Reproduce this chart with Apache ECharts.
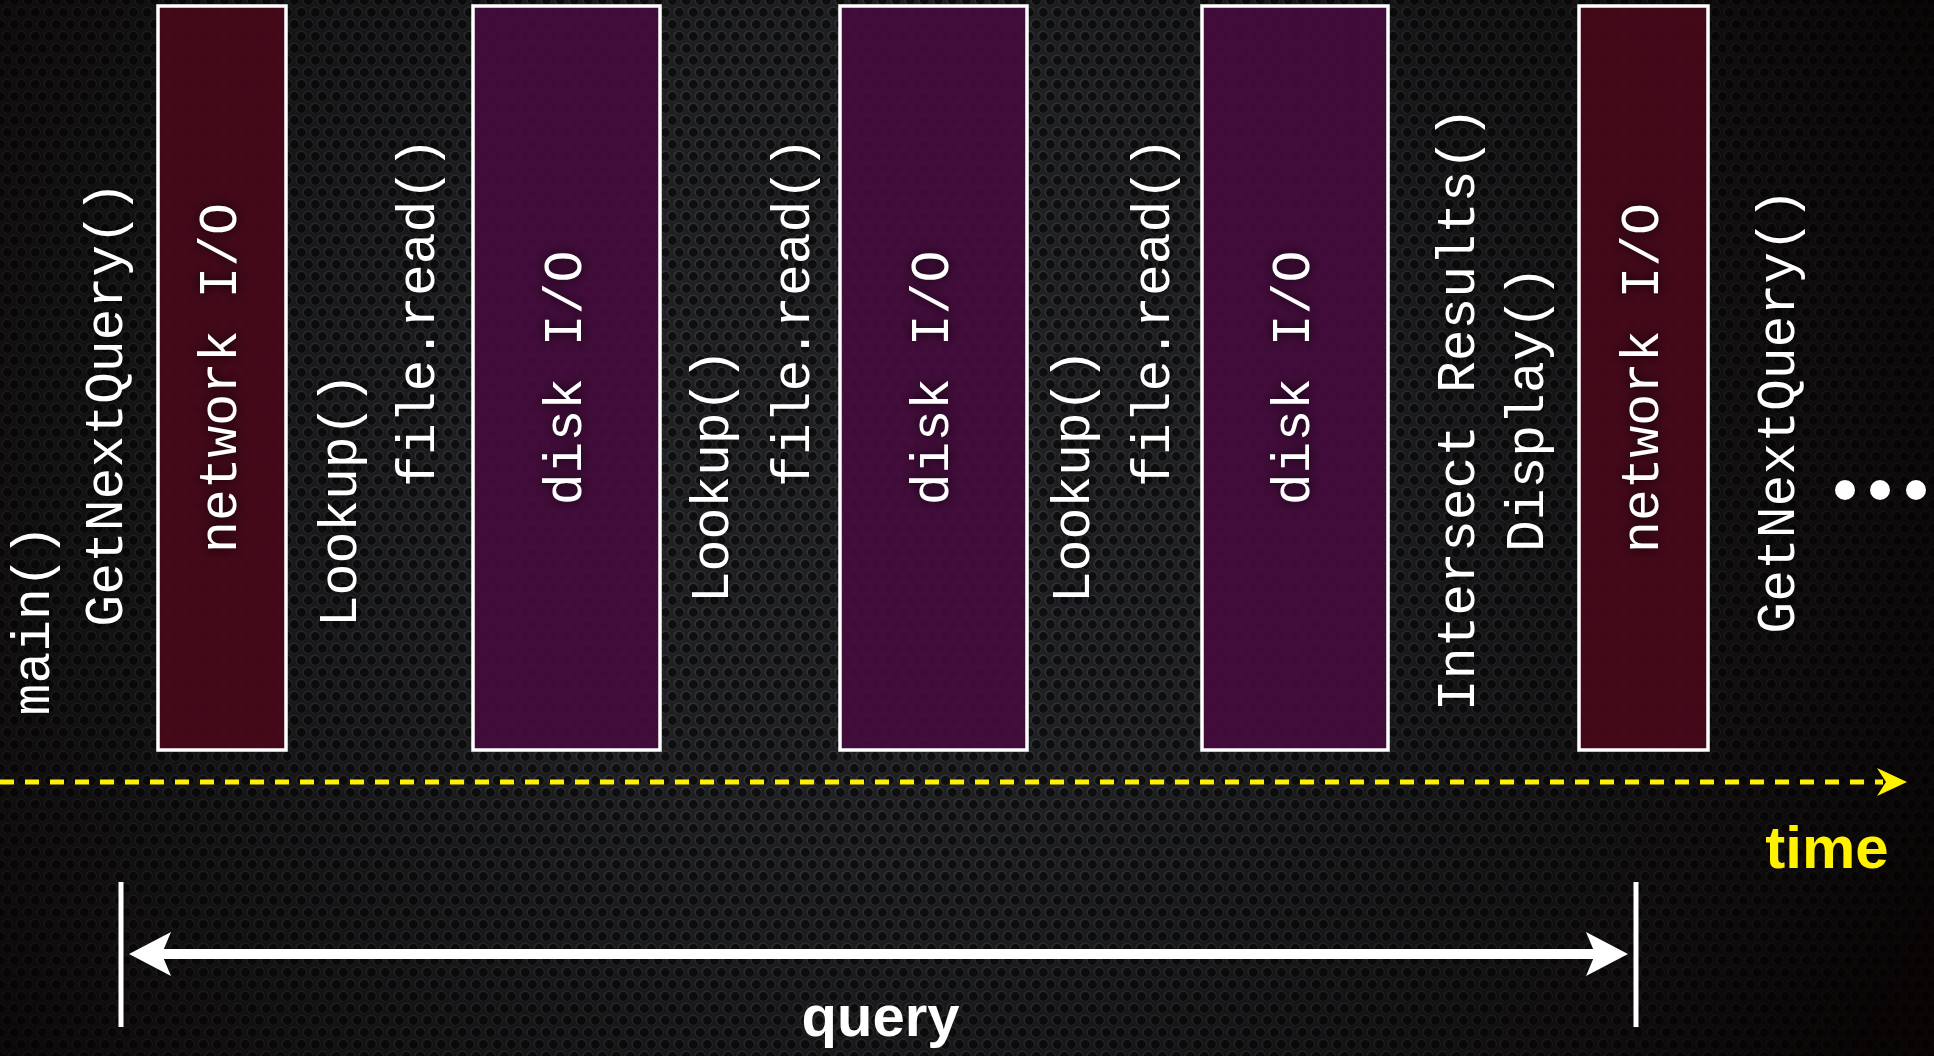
<!DOCTYPE html>
<html>
<head>
<meta charset="utf-8">
<script src="https://cdn.jsdelivr.net/npm/echarts@6/dist/echarts.min.js"></script>
<style>
html,body{margin:0;padding:0;background:#111;}
#chart{width:1934px;height:1056px;}
</style>
</head>
<body>
<div id="chart"></div>
<script>
// ---------- data (time position along the x axis, row position along the y axis) ----------
const ioKinds   = ['network', 'disk', 'disk', 'disk', 'network'];
const ioLabels  = ['network I/O', 'disk I/O', 'disk I/O', 'disk I/O', 'network I/O'];
const ioStart   = [158, 473, 840, 1202, 1579];
const ioEnd     = [286, 660, 1027, 1388, 1708];

const callNames = ['main()', 'GetNextQuery()', 'Lookup()', 'file.read()', 'Lookup()', 'file.read()',
                   'Lookup()', 'file.read()', 'Intersect Results()', 'Display()', 'GetNextQuery()'];
const callTime  = [35, 108, 342, 420, 714, 795, 1075, 1155, 1460, 1529, 1780];
const callRow   = [620, 404, 500, 312, 476, 312, 476, 312, 409, 409, 411];

const timelineStart = 0, timelineEnd = 1907;
const queryStart = 121, queryEnd = 1636;
const moreDots = [1845, 1880, 1916];

// ---------- layout constants (axis units) ----------
const BOX_TOP = 6, BOX_BOTTOM = 750, IO_LABEL_ROW = 378;
const TIMELINE_ROW = 782, QUERY_ROW = 954, TICK_TOP = 882, TICK_BOTTOM = 1027;
const DOTS_ROW = 490;

const ioColors = {network: 'rgba(70,8,26,0.94)', disk: 'rgba(68,12,60,0.94)'};

function meshPattern() {
  const c = document.createElement('canvas');
  c.width = 14; c.height = 24;
  const g = c.getContext('2d');
  g.fillStyle = '#202124'; g.fillRect(0, 0, 14, 24);
  const pts = [[0,0],[14,0],[0,24],[14,24],[7,12]];
  pts.forEach(([x,y]) => {
    g.beginPath(); g.arc(x, y, 5.8, 0, Math.PI*2); g.fillStyle = '#323337'; g.fill();
    g.beginPath(); g.arc(x + 0.4, y + 0.5, 4.4, 0, Math.PI*2); g.fillStyle = '#0f0f10'; g.fill();
  });
  return c;
}

const chart = echarts.init(document.getElementById('chart'));
const monoFont = '"Courier New", "Nimbus Mono PS", "Nimbus Mono L", FreeMono, "Liberation Mono", monospace';
const textShadow = {textShadowColor: 'rgba(0,0,0,0.85)', textShadowBlur: 12};

function arrowHead(tip, dir, L, H, notch, color) {
  return {
    type: 'polygon',
    shape: {points: [
      [tip[0], tip[1]],
      [tip[0] - dir*L, tip[1] - H/2],
      [tip[0] - dir*L*(1-notch), tip[1]],
      [tip[0] - dir*L, tip[1] + H/2]
    ]},
    style: {fill: color}
  };
}

chart.setOption({
  backgroundColor: '#111',
  animation: false,
  graphic: [
    {type: 'rect', left: 0, top: 0, z: -10, shape: {width: 1934, height: 1056},
     style: {fill: {image: meshPattern(), repeat: 'repeat'}}},
    {type: 'rect', left: 0, top: 0, z: -9, shape: {width: 1934, height: 1056},
     style: {fill: {type: 'radial', x: 0.45, y: 0.42, r: 1.1, colorStops: [
       {offset: 0, color: 'rgba(0,0,0,0)'},
       {offset: 0.35, color: 'rgba(0,0,0,0.08)'},
       {offset: 0.8, color: 'rgba(5,0,0,0.6)'},
       {offset: 1, color: 'rgba(5,0,0,0.85)'}]}}}
  ],
  grid: {left: 0, right: 0, top: 0, bottom: 0},
  xAxis: {type: 'value', min: 0, max: 1934, show: false},
  yAxis: {type: 'value', min: 0, max: 1056, inverse: true, show: false},
  series: [
    {
      type: 'custom', name: 'io', z: 3,
      data: ioStart.map((s, i) => [s, ioEnd[i], i]),
      renderItem: function (params, api) {
        const i = api.value(2);
        const p0 = api.coord([api.value(0), BOX_TOP]);
        const p1 = api.coord([api.value(1), BOX_BOTTOM]);
        const mid = api.coord([(api.value(0) + api.value(1)) / 2, IO_LABEL_ROW]);
        return {type: 'group', children: [
          {type: 'rect', shape: {x: p0[0], y: p0[1], width: p1[0]-p0[0], height: p1[1]-p0[1]},
           style: {fill: ioColors[ioKinds[i]], stroke: '#ffffff', lineWidth: 3.5}},
          {type: 'text', x: mid[0], y: mid[1], rotation: Math.PI/2,
           style: Object.assign({text: ioLabels[i], fill: '#ffffff', fontFamily: monoFont, fontSize: 53,
             align: 'center', verticalAlign: 'middle'}, textShadow)}
        ]};
      }
    },
    {
      type: 'custom', name: 'calls', z: 4,
      data: callTime.map((t, i) => [t, callRow[i], i]),
      renderItem: function (params, api) {
        const p = api.coord([api.value(0), api.value(1)]);
        return {type: 'text', x: p[0], y: p[1], rotation: Math.PI/2,
          style: Object.assign({text: callNames[api.value(2)], fill: '#ffffff', fontFamily: monoFont,
            fontSize: 53, align: 'center', verticalAlign: 'middle'}, textShadow)};
      }
    },
    {
      type: 'custom', name: 'timeline', z: 5,
      data: [[timelineStart, timelineEnd, TIMELINE_ROW]],
      renderItem: function (params, api) {
        const a = api.coord([api.value(0), api.value(2)]);
        const b = api.coord([api.value(1), api.value(2)]);
        return {type: 'group', children: [
          {type: 'line', shape: {x1: a[0], y1: a[1], x2: b[0] - 24, y2: b[1]},
           style: {stroke: '#fff200', lineWidth: 5, lineDash: [14, 11]}},
          arrowHead(b, 1, 30, 28, 0.3, '#fff200'),
          {type: 'text', x: api.coord([1827, 0])[0], y: api.coord([0, 851])[1],
           style: {text: 'time', fill: '#fff200', fontFamily: '"Liberation Sans", Arial, sans-serif',
             fontWeight: 'bold', fontSize: 60, align: 'center', verticalAlign: 'middle'}}
        ]};
      }
    },
    {
      type: 'custom', name: 'query', z: 5,
      data: [[queryStart, queryEnd, QUERY_ROW]],
      renderItem: function (params, api) {
        const a = api.coord([api.value(0), api.value(2)]);
        const b = api.coord([api.value(1), api.value(2)]);
        const t0 = api.coord([api.value(0), TICK_TOP]);
        const t1 = api.coord([api.value(0), TICK_BOTTOM]);
        const u0 = api.coord([api.value(1), TICK_TOP]);
        const u1 = api.coord([api.value(1), TICK_BOTTOM]);
        const tipL = [a[0] + 8, a[1]], tipR = [b[0] - 8, b[1]];
        const mid = api.coord([(api.value(0) + api.value(1)) / 2 + 2, 1020]);
        return {type: 'group', children: [
          {type: 'line', shape: {x1: t0[0], y1: t0[1], x2: t1[0], y2: t1[1]}, style: {stroke: '#fff', lineWidth: 5}},
          {type: 'line', shape: {x1: u0[0], y1: u0[1], x2: u1[0], y2: u1[1]}, style: {stroke: '#fff', lineWidth: 5}},
          {type: 'line', shape: {x1: tipL[0] + 30, y1: a[1], x2: tipR[0] - 30, y2: b[1]},
           style: {stroke: '#fff', lineWidth: 10}},
          arrowHead(tipL, -1, 42, 44, 0.22, '#fff'),
          arrowHead(tipR, 1, 42, 44, 0.22, '#fff'),
          {type: 'text', x: mid[0], y: mid[1],
           style: {text: 'query', fill: '#ffffff', fontFamily: '"Liberation Sans", Arial, sans-serif',
             fontWeight: 'bold', fontSize: 58, align: 'center', verticalAlign: 'middle'}}
        ]};
      }
    },
    {
      type: 'scatter', name: 'more', z: 5,
      symbol: 'circle', symbolSize: 20,
      itemStyle: {color: '#ffffff', opacity: 1},
      data: moreDots.map(x => [x, DOTS_ROW])
    }
  ]
});
</script>
</body>
</html>
